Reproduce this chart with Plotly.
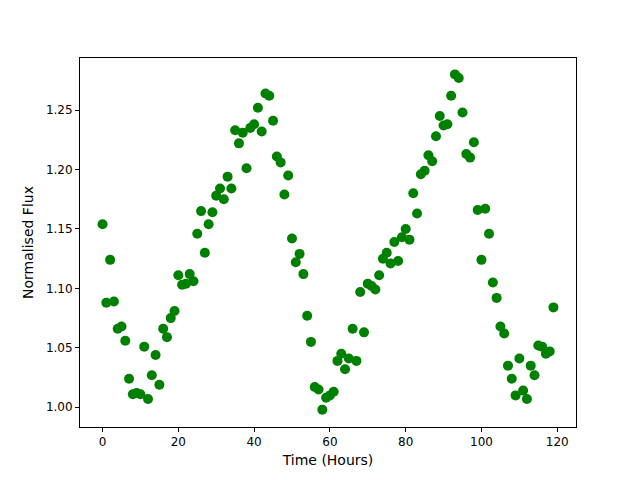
import plotly.graph_objects as go

hours = list(range(120))
flux = [
    1.154, 1.088, 1.124, 1.089, 1.066, 1.068, 1.056, 1.024, 1.011, 1.012,
    1.011, 1.051, 1.007, 1.027, 1.044, 1.019, 1.066, 1.059, 1.075, 1.081,
    1.111, 1.103, 1.104, 1.112, 1.106, 1.146, 1.165, 1.130, 1.154, 1.164,
    1.178, 1.184, 1.175, 1.194, 1.184, 1.233, 1.222, 1.231, 1.201, 1.235,
    1.238, 1.252, 1.232, 1.264, 1.262, 1.241, 1.211, 1.206, 1.179, 1.195,
    1.142, 1.122, 1.129, 1.112, 1.077, 1.055, 1.017, 1.015, 0.998, 1.008,
    1.010, 1.013, 1.039, 1.045, 1.032, 1.041, 1.066, 1.039, 1.097, 1.063,
    1.104, 1.102, 1.099, 1.111, 1.125, 1.130, 1.121, 1.139, 1.123, 1.143,
    1.150, 1.141, 1.180, 1.163, 1.196, 1.199, 1.212, 1.207, 1.228, 1.245,
    1.237, 1.238, 1.262, 1.280, 1.277, 1.248, 1.213, 1.210, 1.223, 1.166,
    1.124, 1.167, 1.146, 1.105, 1.092, 1.068, 1.062, 1.035, 1.024, 1.010,
    1.041, 1.014, 1.007, 1.035, 1.027, 1.052, 1.051, 1.045, 1.047, 1.084,
]
x_ticks = [0, 20, 40, 60, 80, 100, 120]
y_ticks = [1.00, 1.05, 1.10, 1.15, 1.20, 1.25]
y_tick_labels = ["1.00", "1.05", "1.10", "1.15", "1.20", "1.25"]

fig = go.Figure(go.Scatter(
    x=hours, y=flux, mode="markers",
    marker=dict(color="#008000", size=10, line=dict(width=0)),
))

axis_common = dict(
    showline=True, linecolor="black", linewidth=1, mirror=True,
    showgrid=False, zeroline=False, ticks="outside", ticklen=4,
    tickcolor="black", tickwidth=1, automargin=False,
    tickfont=dict(family="DejaVu Sans", size=12, color="black"),
)
fig.update_layout(
    width=640, height=480,
    margin=dict(l=72, r=72, t=50, b=61),
    paper_bgcolor="white", plot_bgcolor="white",
    showlegend=False,
    font=dict(family="DejaVu Sans", size=12, color="black"),
    xaxis=dict(range=[-5.95, 124.95], tickvals=x_ticks,
               title=dict(text="Time (Hours)", standoff=6), **axis_common),
    yaxis=dict(range=[0.9834, 1.2938], tickvals=y_ticks, ticktext=y_tick_labels,
               title=dict(text="Normalised Flux", standoff=8), **axis_common),
)
fig.write_html("out.html")
